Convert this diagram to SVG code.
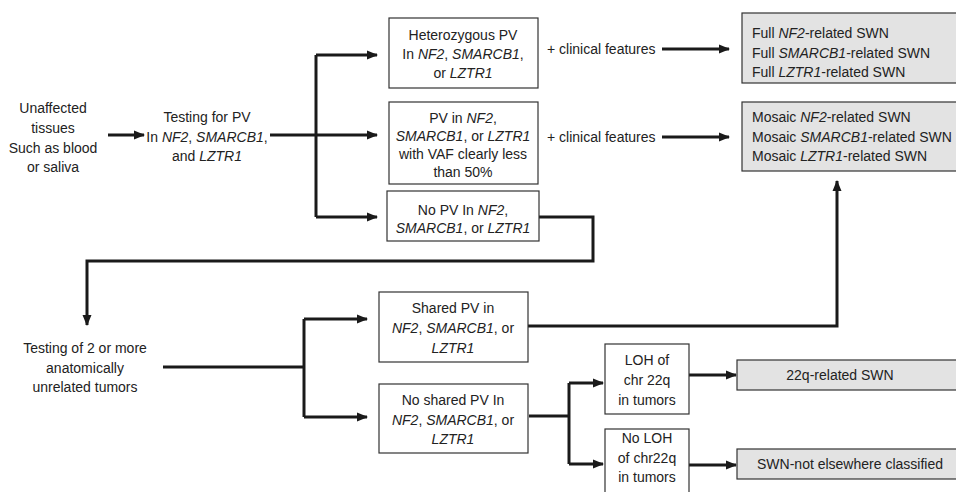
<svg xmlns="http://www.w3.org/2000/svg" width="956" height="492" viewBox="0 0 956 492">
<defs>
<marker id="ah" markerUnits="userSpaceOnUse" markerWidth="11" markerHeight="11" viewBox="0 0 11 11" refX="10" refY="5.5" orient="auto">
<path d="M0,1 L11,5.5 L0,10 Z" fill="#1a1a1a"/>
</marker>
</defs>
<style>
text{font-family:"Liberation Sans",Arial,sans-serif;font-size:14px;fill:#222;}
.c{text-anchor:middle;}
.box{fill:#fff;stroke:#333;stroke-width:1.2;}
.gbox{fill:#e3e3e3;stroke:#333;stroke-width:1.2;}
.ln{fill:none;stroke:#1a1a1a;stroke-width:3;}
.ar{fill:none;stroke:#1a1a1a;stroke-width:3;marker-end:url(#ah);}
</style>
<rect width="956" height="492" fill="#fff"/>
<g id="connectors">
<path class="ar" d="M108,135 H144"/>
<path class="ln" d="M270,135 H316"/>
<path class="ln" d="M316,55 V217"/>
<path class="ar" d="M316,55 H377"/>
<path class="ar" d="M316,135 H377"/>
<path class="ar" d="M316,217 H377"/>
<path class="ar" d="M662,49 H729"/>
<path class="ar" d="M662,137 H729"/>
<path class="ar" d="M539,217 H593 V261 H87 V325"/>
<path class="ln" d="M163,367 H304"/>
<path class="ln" d="M304,319 V417"/>
<path class="ar" d="M304,319 H367"/>
<path class="ar" d="M304,417 H367"/>
<path class="ar" d="M528,326 H837 V181"/>
<path class="ln" d="M529,416 H569"/>
<path class="ln" d="M569,383 V464"/>
<path class="ar" d="M569,383 H603"/>
<path class="ar" d="M569,464 H603"/>
<path class="ar" d="M689,375 H736"/>
<path class="ar" d="M689,465 H736"/>
</g>
<g id="unaffected">
<text class="c" x="53" y="113">Unaffected</text>
<text class="c" x="53" y="133">tissues</text>
<text class="c" x="53" y="153">Such as blood</text>
<text class="c" x="53" y="172">or saliva</text>
</g>
<g id="testing-pv">
<text class="c" x="207" y="122">Testing for PV</text>
<text class="c" x="207" y="142">In <tspan font-style="italic">NF2</tspan>, <tspan font-style="italic">SMARCB1</tspan>,</text>
<text class="c" x="207" y="161">and <tspan font-style="italic">LZTR1</tspan></text>
</g>
<g id="heterozygous">
<rect class="box" x="389" y="18" width="149" height="70"/>
<text class="c" x="463" y="40">Heterozygous PV</text>
<text class="c" x="463" y="59">In <tspan font-style="italic">NF2</tspan>, <tspan font-style="italic">SMARCB1</tspan>,</text>
<text class="c" x="463" y="78">or <tspan font-style="italic">LZTR1</tspan></text>
</g>
<g id="mosaic-pv">
<rect class="box" x="389" y="102" width="149" height="82"/>
<text class="c" x="463" y="123">PV in <tspan font-style="italic">NF2</tspan>,</text>
<text class="c" x="463" y="141"><tspan font-style="italic">SMARCB1</tspan>, or <tspan font-style="italic">LZTR1</tspan></text>
<text class="c" x="463" y="159">with VAF clearly less</text>
<text class="c" x="463" y="177">than 50%</text>
</g>
<g id="no-pv">
<rect class="box" x="387" y="191" width="152" height="50"/>
<text class="c" x="463" y="215">No PV In <tspan font-style="italic">NF2</tspan>,</text>
<text class="c" x="463" y="233"><tspan font-style="italic">SMARCB1</tspan>, or <tspan font-style="italic">LZTR1</tspan></text>
</g>
<g id="clinical-1"><text x="547" y="54">+ clinical features</text></g>
<g id="clinical-2"><text x="547" y="142">+ clinical features</text></g>
<g id="full-swn">
<rect class="gbox" x="742" y="13" width="220" height="70"/>
<text x="752" y="38">Full <tspan font-style="italic">NF2</tspan>-related SWN</text>
<text x="752" y="58">Full <tspan font-style="italic">SMARCB1</tspan>-related SWN</text>
<text x="752" y="77">Full <tspan font-style="italic">LZTR1</tspan>-related SWN</text>
</g>
<g id="mosaic-swn">
<rect class="gbox" x="742" y="102" width="220" height="69"/>
<text x="752" y="122">Mosaic <tspan font-style="italic">NF2</tspan>-related SWN</text>
<text x="752" y="142">Mosaic <tspan font-style="italic">SMARCB1</tspan>-related SWN</text>
<text x="752" y="161">Mosaic <tspan font-style="italic">LZTR1</tspan>-related SWN</text>
</g>
<g id="tumor-testing">
<text class="c" x="85" y="353">Testing of 2 or more</text>
<text class="c" x="85" y="373">anatomically</text>
<text class="c" x="85" y="392">unrelated tumors</text>
</g>
<g id="shared-pv">
<rect class="box" x="379" y="292" width="149" height="70"/>
<text class="c" x="453" y="313">Shared PV in</text>
<text class="c" x="453" y="333"><tspan font-style="italic">NF2</tspan>, <tspan font-style="italic">SMARCB1</tspan>, or</text>
<text class="c" x="453" y="353" font-style="italic">LZTR1</text>
</g>
<g id="no-shared-pv">
<rect class="box" x="379" y="384" width="149" height="69"/>
<text class="c" x="453" y="405">No shared PV In</text>
<text class="c" x="453" y="425"><tspan font-style="italic">NF2</tspan>, <tspan font-style="italic">SMARCB1</tspan>, or</text>
<text class="c" x="453" y="444" font-style="italic">LZTR1</text>
</g>
<g id="loh">
<rect class="box" x="605" y="344" width="84" height="70"/>
<text class="c" x="647" y="365">LOH of</text>
<text class="c" x="647" y="385">chr 22q</text>
<text class="c" x="647" y="405">in tumors</text>
</g>
<g id="no-loh">
<rect class="box" x="605" y="429" width="84" height="70"/>
<text class="c" x="647" y="443">No LOH</text>
<text class="c" x="647" y="463">of chr22q</text>
<text class="c" x="647" y="482">in tumors</text>
</g>
<g id="swn-22q">
<rect class="gbox" x="737" y="360" width="225" height="30"/>
<text class="c" x="840" y="380">22q-related SWN</text>
</g>
<g id="swn-nec">
<rect class="gbox" x="737" y="449" width="225" height="30"/>
<text class="c" x="850" y="469">SWN-not elsewhere classified</text>
</g>
</svg>
